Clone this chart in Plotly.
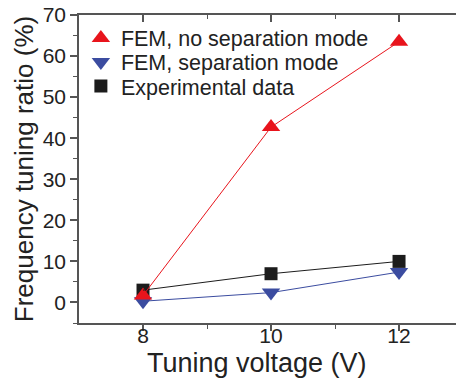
import plotly.graph_objects as go

# Tuning voltage (V)
voltage = [8, 10, 12]
# Frequency tuning ratio (%)
fem_no_separation = [1.7, 42.7, 63.5]
fem_separation = [0.3, 2.4, 7.4]
experimental = [3.0, 7.0, 10.0]

# axis ticks
x_major = [8, 10, 12]
x_minor = [9, 11]
y_major = [0, 10, 20, 30, 40, 50, 60, 70]
y_minor = [-5, 5, 15, 25, 35, 45, 55, 65]

RED = "#e8141c"
BLUE = "#3b4ca0"
BLACK = "#1c1c1c"
FONT = "Liberation Sans, Arial, sans-serif"
TXT = "#222222"
AX = "#555555"
X_RANGE = [7, 12.89]

# name, values, colour, symbol, size, legend id, legend row position
series = [
    ("FEM, no separation mode", fem_no_separation, RED, "triangle-up", 16, "legend", 0.925),
    ("FEM, separation mode", fem_separation, BLUE, "triangle-down", 16, "legend2", 0.847),
    ("Experimental data", experimental, BLACK, "square", 13, "legend3", 0.769),
]

fig = go.Figure()

# connecting lines (no legend entries), on the top x axis which mirrors x
for name, ys, color, sym, size, lg, ly in reversed(series):
    fig.add_trace(go.Scatter(x=voltage, y=ys, mode="lines", xaxis="x2",
                             line=dict(color=color, width=1),
                             showlegend=False, hoverinfo="skip"))

# markers, each with its own legend box
for name, ys, color, sym, size, lg, ly in reversed(series):
    fig.add_trace(go.Scatter(x=voltage, y=ys, mode="markers", name=name,
                             legend=lg,
                             marker=dict(color=color, symbol=sym, size=size,
                                         line=dict(width=0))))

legend_style = dict(x=0.005, xanchor="left", yanchor="middle",
                    bgcolor="rgba(0,0,0,0)", itemwidth=30,
                    font=dict(family=FONT, size=21.5, color=TXT))
legends = {lg: dict(y=ly, **legend_style) for _, _, _, _, _, lg, ly in series}

axis_common = dict(showline=True, linecolor=AX, linewidth=1.5,
                   showgrid=False, zeroline=False, tickcolor=AX,
                   automargin=False,
                   tickfont=dict(family=FONT, size=21, color=TXT))

fig.update_layout(
    width=456, height=380,
    margin=dict(l=79, r=0, t=15, b=57),
    paper_bgcolor="white", plot_bgcolor="white",
    font=dict(family=FONT, color=TXT),
    **legends,
    xaxis=dict(range=X_RANGE, tickvals=x_major, ticks="outside",
               ticklen=6, tickwidth=1.5, ticklabelstandoff=-13,
               minor=dict(tickvals=x_minor, ticks="outside", ticklen=4,
                          tickcolor=AX, tickwidth=1.2),
               **axis_common),
    yaxis=dict(range=[-5, 70], tickvals=y_major,
               ticks="outside", ticklen=7, tickwidth=1.5,
               minor=dict(tickvals=y_minor, ticks="outside", ticklen=4,
                          tickcolor=AX, tickwidth=1.2),
               title=dict(text="Frequency tuning ratio (%)", standoff=2,
                          font=dict(family=FONT, size=26, color=TXT)),
               **axis_common),
    # top frame with inward ticks
    xaxis2=dict(overlaying="x", matches="x", side="top", showticklabels=False,
                range=X_RANGE, tickvals=x_major, ticks="inside",
                ticklen=7, tickwidth=1.5,
                minor=dict(tickvals=x_minor, ticks="inside", ticklen=4,
                           tickcolor=AX, tickwidth=1.2),
                showline=True, linecolor=AX, linewidth=1.5,
                tickcolor=AX, showgrid=False, zeroline=False),
    annotations=[dict(text="Tuning voltage (V)", xref="paper", yref="paper",
                      x=0.472, y=-0.13, xanchor="center", yanchor="middle",
                      showarrow=False,
                      font=dict(family=FONT, size=27, color=TXT))],
)

fig.write_html("out.html")
